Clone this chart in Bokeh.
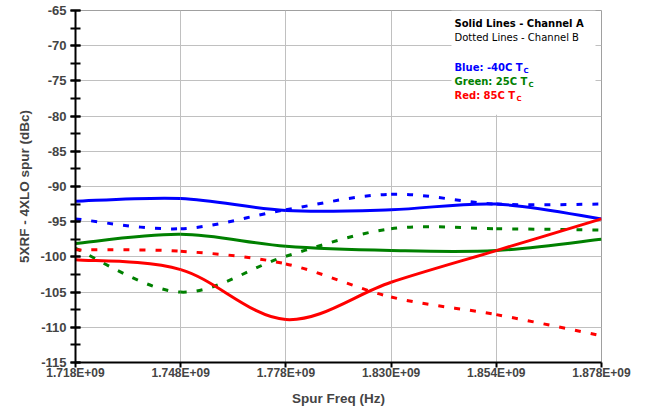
from bokeh.plotting import figure
from bokeh.models import FixedTicker, SingleIntervalTicker, Label, BoxAnnotation
from bokeh.embed import file_html
from bokeh.resources import INLINE

# ---- data ----
freq_labels = ["1.718E+09", "1.748E+09", "1.778E+09", "1.830E+09", "1.854E+09", "1.878E+09"]
x_pos = [0, 1, 2, 3, 4, 5]

blue_a = [-92.1, -91.7, -93.4, -93.3, -92.5, -94.6]
blue_b = [-94.6, -96.0, -93.3, -91.1, -92.5, -92.5]
green_a = [-98.1, -96.8, -98.5, -99.1, -99.1, -97.5]
green_b = [-98.8, -105.0, -99.9, -96.0, -96.0, -96.2]
red_a = [-100.4, -101.8, -108.9, -103.6, -99.1, -94.6]
red_b = [-99.0, -99.2, -101.0, -105.7, -108.2, -111.2]

y_tick_values = list(range(-115, -64, 5))
y_tick_labels = [str(v) for v in y_tick_values]

BLUE = "#0000FF"
GREEN = "#008000"
RED = "#FF0000"

p = figure(width=650, height=415, x_range=(0, 5), y_range=(-115, -65),
           output_backend="svg", toolbar_location=None,
           min_border_left=75, min_border_right=49, min_border_top=10, min_border_bottom=53)
p.background_fill_color = "white"
p.border_fill_color = "white"
p.outline_line_color = "#a0a0a0"
p.outline_line_width = 1


def smooth(xs, ys):
    """Bezier control points (Catmull-Rom style smoothing, like a smoothed spreadsheet line)."""
    n = len(xs)
    x0, y0, x1, y1, cx0, cy0, cx1, cy1 = [], [], [], [], [], [], [], []
    for i in range(n - 1):
        xp, yp = (xs[i - 1], ys[i - 1]) if i > 0 else (xs[i], ys[i])
        xn, yn = (xs[i + 2], ys[i + 2]) if i + 2 < n else (xs[i + 1], ys[i + 1])
        x0.append(xs[i]); y0.append(ys[i])
        x1.append(xs[i + 1]); y1.append(ys[i + 1])
        cx0.append(xs[i] + (xs[i + 1] - xp) / 6.0)
        cy0.append(ys[i] + (ys[i + 1] - yp) / 6.0)
        cx1.append(xs[i + 1] - (xn - xs[i]) / 6.0)
        cy1.append(ys[i + 1] - (yn - ys[i]) / 6.0)
    return dict(x0=x0, y0=y0, x1=x1, y1=y1, cx0=cx0, cy0=cy0, cx1=cx1, cy1=cy1)


series = [
    (blue_b, BLUE, "6 10"), (green_b, GREEN, "6 10"), (red_b, RED, "6 10"),
    (blue_a, BLUE, "solid"), (green_a, GREEN, "solid"), (red_a, RED, "solid"),
]
for ys, col, dash in series:
    p.bezier(**smooth(x_pos, ys), line_color=col, line_width=3, line_dash=dash)

# grids
p.xgrid.ticker = FixedTicker(ticks=x_pos)
p.xgrid.grid_line_color = "#c0c0c0"
p.xgrid.grid_line_width = 1
p.ygrid.grid_line_color = "#c0c0c0"
p.ygrid.grid_line_width = 1

# x axis
xa = p.xaxis[0]
xa.ticker = FixedTicker(ticks=x_pos)
xa.major_label_overrides = {i: lab for i, lab in zip(x_pos, freq_labels)}
xa.axis_label = "Spur Freq (Hz)"
xa.axis_label_text_font = "Liberation Sans"
xa.axis_label_text_font_style = "bold"
xa.axis_label_text_font_size = "13.5px"
xa.axis_label_standoff = 8
xa.major_label_text_font = "Liberation Sans"
xa.major_label_text_font_style = "bold"
xa.major_label_text_font_size = "12px"
xa.major_label_standoff = -2
xa.axis_line_width = 2
xa.axis_line_color = "black"
xa.major_tick_line_width = 2
xa.major_tick_in = 0
xa.major_tick_out = 5
xa.minor_tick_line_color = None

# y axis
ya = p.yaxis[0]
ya.ticker = SingleIntervalTicker(interval=5, num_minor_ticks=2)
ya.major_label_overrides = {v: s for v, s in zip(y_tick_values, y_tick_labels)}
ya.axis_label = "5XRF - 4XLO spur (dBc)"
ya.axis_label_text_font = "Liberation Sans"
ya.axis_label_text_font_style = "bold"
ya.axis_label_text_font_size = "13.5px"
ya.axis_label_standoff = 5
ya.major_label_text_font = "Liberation Sans"
ya.major_label_text_font_style = "bold"
ya.major_label_text_font_size = "13px"
ya.major_label_standoff = 4
ya.axis_line_width = 2
ya.axis_line_color = "black"
ya.major_tick_line_width = 2
ya.major_tick_in = 5
ya.major_tick_out = 5
ya.minor_tick_line_width = 2
ya.minor_tick_in = 5
ya.minor_tick_out = 5

# legend box (white background)
p.add_layout(BoxAnnotation(left=3.574, right=4.943, bottom=-79.8, top=None,
                           fill_color="white", fill_alpha=1.0, line_alpha=0))

FRAME_LEFT = 75
FRAME_TOP = 10


def add_text(txt, px, py, color="black", bold=False, size="10px"):
    p.add_layout(Label(x=0, y=-65, x_offset=px - FRAME_LEFT, y_offset=-(py - FRAME_TOP),
                       text=txt, text_color=color, text_font="DejaVu Sans",
                       text_font_style="bold" if bold else "normal",
                       text_font_size=size, text_baseline="middle", text_align="left"))


add_text("Solid Lines - Channel A", 454, 23, bold=True)
add_text("Dotted Lines - Channel B", 454, 37)
add_text("Blue: -40C T", 454, 67, BLUE, True)
add_text("C", 523, 70, BLUE, True, "7px")
add_text("Green: 25C T", 454, 81, GREEN, True)
add_text("C", 528, 84, GREEN, True, "7px")
add_text("Red: 85C T", 454, 95, RED, True)
add_text("C", 516, 98, RED, True, "7px")

open("out.html", "w").write(file_html(p, INLINE))
